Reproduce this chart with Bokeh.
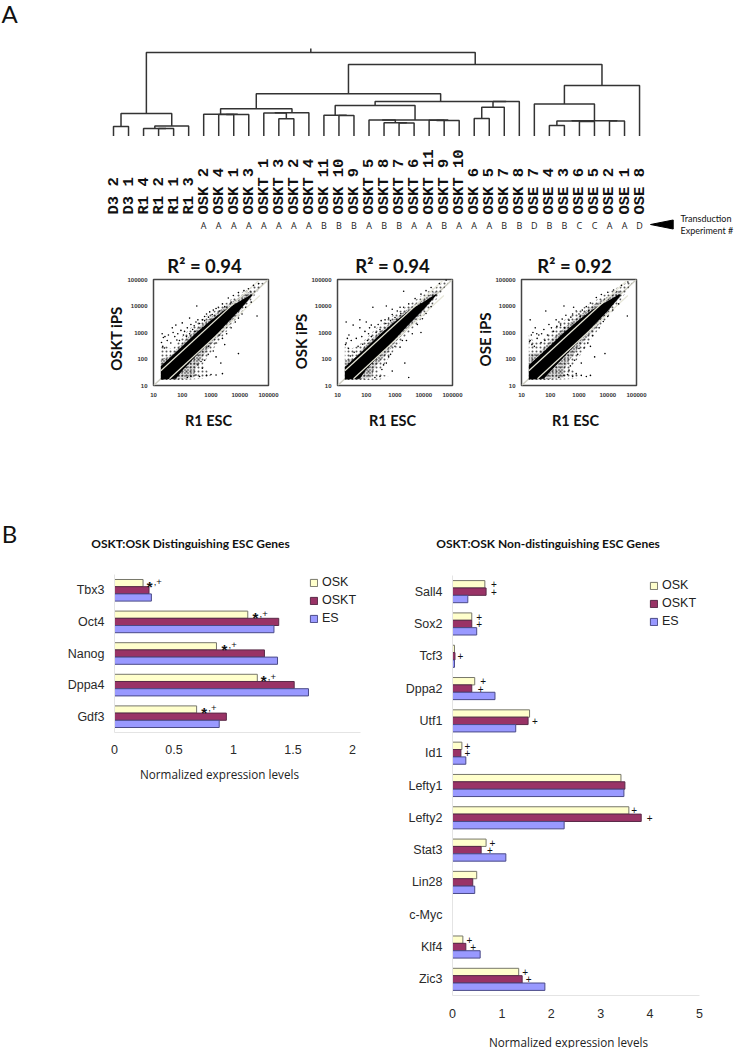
import math
from bokeh.plotting import figure
from bokeh.layouts import row, column
from bokeh.models import Range1d, FactorRange, Label, FixedTicker, Legend, LegendItem, ColumnDataSource
from bokeh.transform import dodge
from bokeh.core.properties import value
from bokeh.embed import file_html
from bokeh.resources import INLINE

# ---------- dendrogram data ----------
leaf_names = [f"{a} {b}" for a, b in [("D3",2),("D3",1),("R1",4),("R1",2),("R1",1),("R1",3),
              ("OSK",2),("OSK",4),("OSK",1),("OSK",3),("OSKT",1),("OSKT",3),("OSKT",2),("OSKT",4),
              ("OSK",11),("OSK",10),("OSK",9),("OSKT",5),("OSKT",8),("OSKT",7),("OSKT",6),("OSKT",11),("OSKT",9),("OSKT",10),
              ("OSK",6),("OSK",5),("OSK",7),("OSK",8),("OSE",7),("OSE",4),("OSE",3),("OSE",6),("OSE",5),("OSE",2),("OSE",1),("OSE",8)]]
experiments = ["A","A","A","A","A","A","A","A","B","B","B","A","B","B","A","A","B","A","A","A","B","B","D","B","B","C","C","A","A","D"]
# (height, left, right); integers are leaves
tree_d3 = (9.5, 0, 1)
tree_r1 = (10, (7.5, 2, (7.5, 3, 4)), 5)
tree_osk = (21.8, 6, (21.5, (21.5, 7, 8), 9))
tree_oskt = (23.2, (23.0, 10, (17.2, 11, 12)), 13)
tree_b = (20.8, 14, (20.5, 15, 16))
tree_c = (16, (16, 17, (13.2, 18, (13, 19, 20))), (15.5, (15.8, 21, 22), 23))
tree_d = (34.5, (28.8, (17.5, 24, 25), 26), 27)
tree_ose = (50.5, (32, 28, (15.3, (15, (10.5, 29, 30), (14.5, 31, 32)), (15, 33, 34))), 35)
tree_mid = (42.2, (27.2, tree_osk, tree_oskt), (34.5, (30.5, tree_b, tree_c), tree_d))
tree_root = (83.5, (22.5, tree_d3, tree_r1), (71.5, tree_mid, tree_ose))

# ---------- scatter data ----------
tick_vals = [10, 100, 1000, 10000, 100000]
tick_text = ["10", "100", "1000", "10000", "100000"]
r2_vals = ["R² = 0.94", "R² = 0.94", "R² = 0.92"]
y_names = ["OSKT iPS", "OSK iPS", "OSE iPS"]
identity = [10, 100000]
fold_up_x, fold_up_y = [18, 45000], [36, 90000]
fold_lo_x, fold_lo_y = [36, 50000], [18, 25000]

outer1 = [(18,16),(18,350),(28,300),(45,230),(70,420),(100,700),(200,1500),(400,2700),(1000,5500),(3000,12000),(8000,26000),(20000,45000),(50000,75000),(70000,75000),(30000,22000),(15000,7500),(6000,2200),(2500,700),(1000,180),(500,60),(1000,24),(500,18),(100,16)]
inner1 = [(18,17),(18,100),(40,130),(100,400),(300,1300),(1000,3800),(3000,9500),(10000,22000),(25000,38000),(30000,28000),(12000,8000),(4000,1700),(1200,450),(500,120),(300,50),(250,20),(60,17)]
band1 = [(18,17),(18,55),(50,150),(100,300),(300,950),(1000,2900),(3000,7000),(10000,15000),(25000,27000),(28000,26000),(10000,7000),(3000,1800),(1000,500),(300,130),(100,36),(60,18)]
pts1 = [(320,10000),(100,2300),(60,1900),(45,1500),(20,900),(22,650),(30,500),(25,700),(40,400),(55,700),(70,900),(80,500),(90,1200),(120,1100),(150,1500),(180,900),(200,2000),(260,1800),(300,2500),(350,3000),(400,2200),(500,3000),(600,4000),(700,5000),(900,6000),(1200,7000),(1500,8000),(1800,9000),(2500,12000),(4000,20000),(6000,25000),(9000,32000),(14000,38000),(20000,45000),(30000,60000),(45000,70000),(40000,4200),(9000,160),(400,22),(700,24),(1000,26),(1500,25),(2500,28),(2200,70),(1500,120),(1200,200),(800,150),(600,90),(500,45),(300,25),(200,22),(150,20),(800,300),(1500,400),(2500,600),(3500,900),(5000,1500),(7000,2500),(9000,3500),(12000,5000),(16000,9000),(25000,14000),(2000,800),(3000,350),(450,80),(350,60),(19,420),(21,300),(24,260),(33,800),(48,1000),(65,520),(110,800),(140,700),(230,1300),(280,1100),(180,3500),(600,2800),(820,3800),(1100,4800),(2000,6500),(3000,9500),(5000,14000)]

outer2 = [(18,16),(18,300),(30,250),(50,300),(100,600),(200,1300),(500,3000),(1000,5000),(3000,11000),(8000,24000),(20000,45000),(60000,90000),(70000,75000),(30000,20000),(15000,7000),(6000,2200),(2500,800),(1000,240),(500,80),(250,30),(600,22),(300,17),(100,16)]
inner2 = [(18,17),(18,90),(40,110),(100,360),(300,1100),(1000,3300),(3000,8200),(10000,19000),(25000,36000),(30000,27000),(12000,8500),(4000,2000),(1200,520),(500,150),(200,50),(150,20),(50,17)]
band2 = [(18,17),(18,50),(50,135),(100,270),(300,850),(1000,2600),(3000,6600),(10000,14500),(25000,27000),(28000,26500),(10000,7500),(3000,2000),(1000,560),(300,145),(100,40),(60,18)]
pts2 = [(170,9000),(500,10000),(800,7500),(1500,9000),(60,3000),(20,2500),(35,1900),(60,1500),(100,2500),(130,1500),(25,800),(30,500),(22,600),(20,400),(45,600),(70,700),(90,1100),(120,900),(150,1900),(200,1600),(260,2000),(330,2800),(450,3000),(600,3500),(800,4800),(1200,6500),(2000,9000),(3000,12000),(5000,19000),(8000,28000),(12000,38000),(18000,50000),(35000,70000),(60000,95000),(2000,36000),(8000,1000),(700,150),(1000,300),(2200,70),(3000,20),(400,60),(600,120),(800,35),(300,22),(200,20),(1500,280),(2500,500),(4000,900),(6000,2000),(9000,3300),(12000,5200),(18000,9500),(1800,500),(500,70),(350,40),(19,350),(24,250),(28,130),(38,180),(52,300),(75,360),(110,500),(150,700),(220,1000),(300,1300),(480,2200),(700,2800),(1000,3700),(1600,5200)]

outer3 = [(18,16),(18,800),(25,500),(40,400),(70,700),(100,1000),(200,2200),(400,3500),(1000,7000),(3000,14000),(8000,28000),(20000,48000),(60000,90000),(70000,75000),(30000,18000),(15000,6500),(6000,1900),(2500,500),(1000,120),(500,45),(1000,24),(800,18),(100,16)]
inner3 = [(18,17),(18,160),(40,170),(100,480),(300,1500),(1000,4200),(3000,10500),(10000,23000),(25000,40000),(30000,25000),(12000,7500),(4000,1500),(1200,380),(500,100),(300,40),(300,20),(60,17)]
band3 = [(18,17),(18,60),(50,160),(100,320),(300,1000),(1000,3000),(3000,7400),(10000,15500),(25000,28000),(28000,25000),(10000,6500),(3000,1700),(1000,470),(300,120),(100,34),(60,18)]
pts3 = [(300,10000),(650,9000),(70,6500),(20,3000),(160,3000),(90,2000),(30,1500),(25,1000),(22,800),(40,800),(60,1300),(20,500),(35,600),(50,900),(110,1500),(130,1100),(200,2500),(260,3200),(350,4500),(450,2900),(600,5000),(800,6500),(1000,5000),(1300,7000),(1800,9500),(2500,13000),(4000,21000),(6000,27000),(10000,33000),(16000,40000),(30000,60000),(50000,80000),(48000,4200),(8000,160),(3500,120),(2500,24),(1800,22),(1200,24),(800,28),(600,22),(400,26),(300,24),(200,20),(1200,70),(900,150),(700,90),(500,55),(1000,250),(2000,400),(3000,750),(5000,1500),(7000,2600),(10000,4000),(15000,7000),(24000,12000),(2500,300),(1500,260),(450,38),(19,450),(23,350),(28,300),(34,900),(48,420),(65,500),(80,800),(170,1700),(230,1900),(310,1500),(520,3800),(1100,3900),(2200,6800)]
outers, inners, bands, point_sets = [outer1, outer2, outer3], [inner1, inner2, inner3], [band1, band2, band3], [pts1, pts2, pts3]

# ---------- bar data ----------
genes_a = ["Tbx3", "Oct4", "Nanog", "Dppa4", "Gdf3"]
osk_a = [0.24, 1.12, 0.857, 1.20, 0.69]
oskt_a = [0.29, 1.38, 1.26, 1.51, 0.94]
es_a = [0.31, 1.34, 1.37, 1.63, 0.88]
mark_a_x = [0.27, 1.16, 0.90, 1.23, 0.73]

genes_b = ["Sall4", "Sox2", "Tcf3", "Dppa2", "Utf1", "Id1", "Lefty1", "Lefty2", "Stat3", "Lin28", "c-Myc", "Klf4", "Zic3"]
osk_b = [0.655, 0.39, 0.04, 0.45, 1.56, 0.19, 3.41, 3.57, 0.68, 0.49, 0, 0.21, 1.34]
oskt_b = [0.68, 0.39, 0.05, 0.39, 1.53, 0.17, 3.49, 3.82, 0.58, 0.41, 0, 0.27, 1.41]
es_b = [0.31, 0.49, 0.04, 0.86, 1.28, 0.27, 3.47, 2.26, 1.08, 0.45, 0, 0.56, 1.87]
plus_osk_gene = ["Sall4", "Sox2", "Dppa2", "Id1", "Lefty2", "Stat3", "Klf4", "Zic3"]
plus_osk_x = [0.84, 0.54, 0.62, 0.30, 3.68, 0.81, 0.34, 1.47]
plus_oskt_gene = ["Sall4", "Sox2", "Tcf3", "Dppa2", "Utf1", "Id1", "Lefty2", "Stat3", "Klf4", "Zic3"]
plus_oskt_x = [0.84, 0.54, 0.16, 0.57, 1.67, 0.30, 3.99, 0.76, 0.42, 1.54]

C_OSK, C_OSKT, C_ES = "#FFFFCC", "#993366", "#9999FF"
BAR_H = 0.228
BARS_TOP = 515  # picture row where the bar figures begin


def page_label(p, x, y, text, size, font="Lato", style="normal", color="#111111", align="center", angle=0,
               place="below"):
    # x, y are canvas pixels of this figure, from its top-left corner; a side panel keeps it unclipped
    p.add_layout(Label(x=x, y=y, x_units="canvas", y_units="canvas", text=text,
                       text_font=font, text_font_size=f"{size}px", text_font_style=style,
                       text_color=color, text_align=align, text_baseline="middle", angle=angle), place)


# ---------- A: dendrogram ----------
top = figure(width=734, height=245, output_backend="svg", toolbar_location=None,
             x_range=Range1d(-113 / 15.03, (734 - 113) / 15.03), y_range=Range1d(-109.5, 135.5),
             min_border=0, outline_line_color=None, background_fill_color="white", frame_align=False)
top.axis.visible = False
top.grid.visible = False
seg_x, seg_y = [], []


def walk(n):
    if isinstance(n, int):
        return float(n), 0.0
    h, a, b = n
    xa, ha = walk(a)
    xb, hb = walk(b)
    seg_x.append([xa, xa, xb, xb])
    seg_y.append([ha, h, h, hb])
    return (xa + xb) / 2, h


root_x, root_h = walk(tree_root)
seg_x.append([root_x, root_x])
seg_y.append([root_h, root_h + 4])
top.multi_line(seg_x, seg_y, line_color="#333333", line_width=1.5)
top.text(x=list(range(36)), y=[-78.5] * 36, text=leaf_names, angle=math.pi / 2, text_align="left",
         text_baseline="middle", text_font=value("Liberation Mono"), text_font_style="bold",
         text_font_size="15.5px", text_color="#111111")
top.text(x=list(range(6, 36)), y=[-89.5] * 30, text=experiments, text_align="center", text_baseline="middle",
         text_font=value("Open Sans"), text_font_size="9px", text_color="#222222")
top.patch([35.73, 37.24, 37.24], [-88.5, -84, -93], fill_color="black", line_color="black")
page_label(top, 9, 13, "A", 24, place="center")
page_label(top, 680, 218, "Transduction", 9, align="left", place="center")
page_label(top, 680, 230, "Experiment #", 9, align="left", place="center")

# ---------- scatter panels ----------
panel_specs = [(0, 290, 153), (290, 180, 337), (470, 264, 521)]
title_x = [204, 392, 574]
ylab_x = [115, 300, 484]
ylab_y = [338, 341, 339]
xlab_x = [208, 392, 575]
scatter_figs = []
for i, (off, w, fl) in enumerate(panel_specs):
    p = figure(width=w, height=BARS_TOP - 245, output_backend="svg", toolbar_location=None,
               x_axis_type="log", y_axis_type="log",
               x_range=Range1d(10, 100000), y_range=Range1d(10, 100000),
               min_border_left=fl - off, min_border_right=w - (fl - off) - 115,
               min_border_top=34, min_border_bottom=BARS_TOP - 385, frame_align=False,
               outline_line_color="#444444", outline_line_width=1.5, background_fill_color="white")
    p.grid.visible = False
    for ax in (p.xaxis[0], p.yaxis[0]):
        ax.ticker = FixedTicker(ticks=tick_vals)
        ax.major_label_overrides = dict(zip(tick_vals, tick_text))
        ax.major_tick_line_color = None
        ax.minor_tick_line_color = None
        ax.axis_line_color = None
        ax.major_label_text_font = "Liberation Sans"
        ax.major_label_text_font_style = "bold"
        ax.major_label_text_font_size = "6px"
        ax.major_label_text_color = "#333333"
    p.xaxis[0].major_label_standoff = 1
    p.yaxis[0].major_label_standoff = 0
    p.yaxis[0].major_label_orientation = "horizontal"
    p.line(identity, identity, line_color="#cfcfc4", line_width=1.5)
    p.patch([a for a, _ in outers[i]], [b for _, b in outers[i]], fill_color=None, line_color=None,
            hatch_pattern="dot", hatch_scale=4, hatch_weight=1.0, hatch_color="black", hatch_alpha=0.65)
    p.patch([a for a, _ in inners[i]], [b for _, b in inners[i]], fill_color="black", fill_alpha=0.15, line_color=None,
            hatch_pattern="dot", hatch_scale=3, hatch_weight=1.3, hatch_color="black", hatch_alpha=0.75)
    p.patch([a for a, _ in bands[i]], [b for _, b in bands[i]], fill_color="black", line_color=None)
    p.line(fold_up_x, fold_up_y, line_color="#e6e6d8", line_width=1.2)
    p.line(fold_lo_x, fold_lo_y, line_color="#e6e6d8", line_width=1.2)
    p.scatter([a for a, _ in point_sets[i]], [b for _, b in point_sets[i]], size=1.6, marker="circle",
              fill_color="black", line_color=None)
    page_label(p, title_x[i] - off, 265 - 245, r2_vals[i], 18.5, style="bold")
    page_label(p, ylab_x[i] - off, ylab_y[i] - 245, y_names[i], 15, style="bold", angle=math.pi / 2)
    page_label(p, xlab_x[i] - off, 420 - 245, "R1 ESC", 14.5, style="bold")
    scatter_figs.append(p)


# ---------- B: bars ----------
def bars(genes, a, b, c, xmax, width, frame_l, frame_w, frame_top, frame_bottom, x_standoff):
    y_range = FactorRange(factors=list(reversed(genes)))
    p = figure(width=width, height=1048 - BARS_TOP, output_backend="svg", toolbar_location=None,
               x_range=Range1d(0, xmax), y_range=y_range, min_border_left=frame_l,
               min_border_right=width - frame_l - frame_w, min_border_top=frame_top - BARS_TOP,
               min_border_bottom=1048 - frame_bottom,
               outline_line_color=None, background_fill_color="white", frame_align=False)
    src = ColumnDataSource(dict(g=genes, a=a, b=b, c=c))
    r1 = p.hbar(y=dodge("g", BAR_H, range=y_range), right="a", height=BAR_H, left=0, source=src,
                fill_color=C_OSK, line_color="#77776a", line_width=1)
    r2 = p.hbar(y=dodge("g", 0, range=y_range), right="b", height=BAR_H, left=0, source=src,
                fill_color=C_OSKT, line_color="#5a2a48", line_width=1)
    r3 = p.hbar(y=dodge("g", -BAR_H, range=y_range), right="c", height=BAR_H, left=0, source=src,
                fill_color=C_ES, line_color="#4a4a88", line_width=1)
    p.grid.visible = False
    for ax in (p.xaxis[0], p.yaxis[0]):
        ax.major_tick_line_color = None
        ax.minor_tick_line_color = None
        ax.axis_line_color = "#e4e4e4"
        ax.major_label_text_font = "Liberation Sans"
        ax.major_label_text_font_size = "12.5px"
        ax.major_label_text_color = "#2a2a2a"
    p.yaxis[0].major_label_standoff = 4
    p.xaxis[0].major_label_standoff = x_standoff
    return p, (r1, r2, r3)


def add_legend(p, rs, x, y):
    leg = Legend(items=[LegendItem(label=value(n), renderers=[r]) for n, r in zip(["OSK", "OSKT", "ES"], rs)],
                 location=(x, y), orientation="vertical", border_line_color=None, background_fill_alpha=0,
                 margin=0, padding=0, spacing=4, glyph_width=9, glyph_height=9, label_height=13,
                 label_standoff=4, label_text_font="Liberation Sans", label_text_font_size="12.5px",
                 label_text_color="#222222")
    p.add_layout(leg, "center")


left, rs_a = bars(genes_a, osk_a, oskt_a, es_a, 2 * 246 / 238, 380, 114, 246, 574, 732, 6)
left.xaxis[0].ticker = FixedTicker(ticks=[0, 0.5, 1, 1.5, 2])
left.xaxis[0].major_label_overrides = {0: "0", 0.5: "0.5", 1: "1", 1.5: "1.5", 2: "2"}
add_legend(left, rs_a, 195, 107)
ms = ColumnDataSource(dict(g=genes_a, x=mark_a_x, star=["*"] * 5, rest=[",+"] * 5))
left.text(x="x", y=dodge("g", BAR_H, range=left.y_range), text="star", source=ms, text_align="left", y_offset=3,
          text_baseline="middle", text_font=value("Liberation Sans"), text_font_style="bold",
          text_font_size="15px", text_color="#111111")
left.text(x="x", y=dodge("g", BAR_H, range=left.y_range), text="rest", source=ms, text_align="left", x_offset=7,
          y_offset=-1, text_baseline="middle", text_font=value("Liberation Sans"),
          text_font_size="9.5px", text_color="#111111")
page_label(left, 9, 533 - BARS_TOP, "B", 24)
page_label(left, 190, 543 - BARS_TOP, "OSKT:OSK Distinguishing ESC Genes", 12, style="bold")
page_label(left, 219, 773 - BARS_TOP, "Normalized expression levels", 11.7, font="Open Sans", color="#222222")

right, rs_b = bars(genes_b, osk_b, oskt_b, es_b, 5, 354, 72, 247, 575, 995, 7)
right.xaxis[0].ticker = FixedTicker(ticks=[0, 1, 2, 3, 4, 5])
add_legend(right, rs_b, 197, 367)
for genes_p, xs_p, off_p in ((plus_osk_gene, plus_osk_x, BAR_H), (plus_oskt_gene, plus_oskt_x, 0)):
    s = ColumnDataSource(dict(g=genes_p, x=xs_p, t=["+"] * len(xs_p)))
    right.text(x="x", y=dodge("g", off_p, range=right.y_range), text="t", source=s, text_align="center",
               text_baseline="middle", text_font=value("Liberation Sans"), text_font_size="10px",
               text_color="#111111")
page_label(right, 547.6 - 380, 543 - BARS_TOP, "OSKT:OSK Non-distinguishing ESC Genes", 12, style="bold", place="above")
page_label(right, 568 - 380, 1041 - BARS_TOP, "Normalized expression levels", 11.7, font="Open Sans", color="#222222")

page = column(top, row(*scatter_figs, spacing=0), row(left, right, spacing=0), spacing=0)
open("out.html", "w").write(file_html(page, INLINE))
